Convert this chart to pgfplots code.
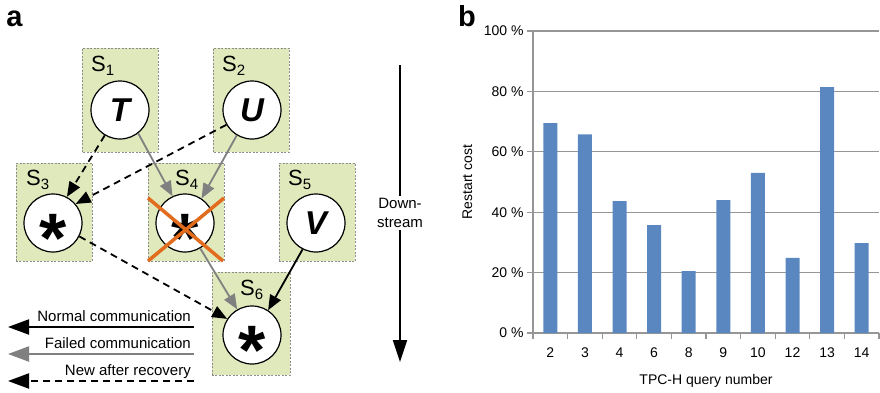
\documentclass[border=0pt]{standalone}
\usepackage{fontspec}
\setmainfont{Liberation Sans}
\usepackage{pgfplots}
\pgfplotsset{compat=1.18}
\usetikzlibrary{arrows.meta}
\definecolor{boxfill}{RGB}{223,233,188}
\definecolor{boxline}{RGB}{140,140,140}
\definecolor{failgray}{RGB}{128,128,128}
\definecolor{crossor}{RGB}{226,108,30}
\definecolor{barblue}{RGB}{91,135,193}
\definecolor{gridgray}{RGB}{150,150,150}
\pgfplotstableread{
x q val
1 2 69.5
2 3 65.8
3 4 43.7
4 6 35.7
5 8 20.5
6 9 44.0
7 10 53.0
8 12 24.9
9 13 81.4
10 14 29.8
}\costdata
\newcommand{\Slab}[1]{S\raisebox{-4pt}{\fontsize{15}{15}\selectfont #1}}
\begin{document}
\begin{tikzpicture}
\begin{scope}[x=1pt,y=1pt,
  sbox/.style={fill=boxfill,draw=boxline,dashed,line width=0.6pt,dash pattern=on 2pt off 1.5pt},
  circ/.style={circle,draw=black,fill=white,line width=1.2pt,minimum size=58pt,inner sep=0pt},
  slab/.style={anchor=base west,inner sep=0pt,font=\fontsize{22}{22}\selectfont},
  let/.style={font=\fontsize{33}{33}\selectfont\bfseries\itshape},
  sm/.style={-{Triangle[length=15pt,width=12pt]},line width=1.8pt},
  lg/.style={-{Triangle[length=21pt,width=15pt]},line width=2pt},
  dsh/.style={dash pattern=on 7pt off 5pt}]
\path[use as bounding box] (0,0) rectangle (880,392);

% ---------- panel a ----------
\node[anchor=base,inner sep=0pt,font=\fontsize{29}{29}\selectfont\bfseries] at (14.5,366) {a};

\path[sbox] (82,240) rectangle (158,344);
\path[sbox] (213,240) rectangle (289,344);
\path[sbox] (16,131) rectangle (92,229);
\path[sbox] (148,131) rectangle (224,229);
\path[sbox] (279,131) rectangle (355,229);
\path[sbox] (212,17) rectangle (290,120);

\node[slab] at (91,321) {\Slab{1}};
\node[slab] at (222,321) {\Slab{2}};
\node[slab] at (26,207) {\Slab{3}};
\node[slab] at (175,207) {\Slab{4}};
\node[slab] at (288,207) {\Slab{5}};
\node[slab] at (240,97) {\Slab{6}};

\node[circ] (T) at (120,282) {};
\node[circ] (U) at (252,282) {};
\node[circ] (C3) at (53,169) {};
\node[circ] (C4) at (185,169) {};
\node[circ] (V) at (316,169) {};
\node[circ] (C6) at (252,57) {};

\node[let] at (120,282) {T};
\node[let] at (252,282) {U};
\node[let] at (316,169) {V};
\foreach \p in {(53,169),(185,169),(252,57)}{
  \path \p node[anchor=base,inner sep=0pt,font=\fontsize{70}{70}\selectfont\bfseries,yshift=-39pt] {*};
}

% arrows
\draw[sm,failgray] (T.-52) -- (C4.115);
\draw[sm,failgray] (U.-121) -- (C4.56);
\draw[sm,dsh] (T.-121) -- (C3.62);
\draw[sm,dsh] (U.-150) -- (C3.40);
\draw[sm,dsh] (C3.-27) -- (C6.147);
\draw[sm,failgray] (C4.-59) -- (C6.120);
\draw[sm] (V.-117) -- (C6.57);

% orange cross
\draw[crossor,line width=3.5pt] (148,194) -- (223,131);
\draw[crossor,line width=3.5pt] (224,194) -- (148,131);

% downstream
\draw[-{Triangle[length=22pt,width=14pt]},line width=2pt] (400,327) -- (400,30);
\node[fill=white,align=center,inner sep=2pt,font=\fontsize{15}{19}\selectfont] at (400,179) {Down-\\stream};

% legend
\draw[lg] (194,65) -- (8,65);
\draw[lg,failgray] (194,38) -- (8,38);
\draw[lg,dsh] (194,11) -- (8,11);
\node[anchor=base east,inner sep=0pt,font=\fontsize{15}{15}\selectfont] at (191,71) {Normal communication};
\node[anchor=base east,inner sep=0pt,font=\fontsize{15}{15}\selectfont] at (191,44) {Failed communication};
\node[anchor=base east,inner sep=0pt,font=\fontsize{15}{15}\selectfont] at (191,17) {New after recovery};

% ---------- panel b ----------
\node[anchor=base west,inner sep=0pt,font=\fontsize{29}{29}\selectfont\bfseries] at (458,366) {b};
\end{scope}

\begin{axis}[
  at={(533pt,59pt)},anchor=south west,
  scale only axis,width=346pt,height=302pt,
  xmin=0.5,xmax=10.5,ymin=0,ymax=100,
  axis x line=bottom, axis y line=left,
  axis line style={gridgray,line width=1.3pt,-},
  major tick length=6pt,
  xtick={0.5,1.5,...,10.5},
  x tick label as interval,
  xticklabels={2,3,4,6,8,9,10,12,13,14},
  xtick align=outside,
  x tick style={gridgray,line width=1.3pt},
  ytick={0,20,40,60,80,100},
  yticklabels={0 \%,20 \%,40 \%,60 \%,80 \%,100 \%},
  ytick align=outside,
  y tick style={gridgray,line width=1.3pt},
  ymajorgrids, xmajorgrids=false,
  major grid style={gridgray,line width=1.3pt},
  tick label style={font=\fontsize{14}{16}\selectfont},
  xticklabel style={yshift=-5pt},
  /pgf/number format/assume math mode=true,
  xlabel={TPC-H query number},
  ylabel={Restart cost},
  label style={font=\fontsize{14}{16}\selectfont},
  xlabel style={at={(axis description cs:0.5,-0.159)},anchor=center},
  ylabel style={at={(axis description cs:-0.19,0.5)},anchor=center},
  clip=false,
]
\addplot[ybar,bar width=14pt,fill=barblue,draw=none] table[x=x,y=val] {\costdata};
\end{axis}
\end{tikzpicture}
\end{document}
